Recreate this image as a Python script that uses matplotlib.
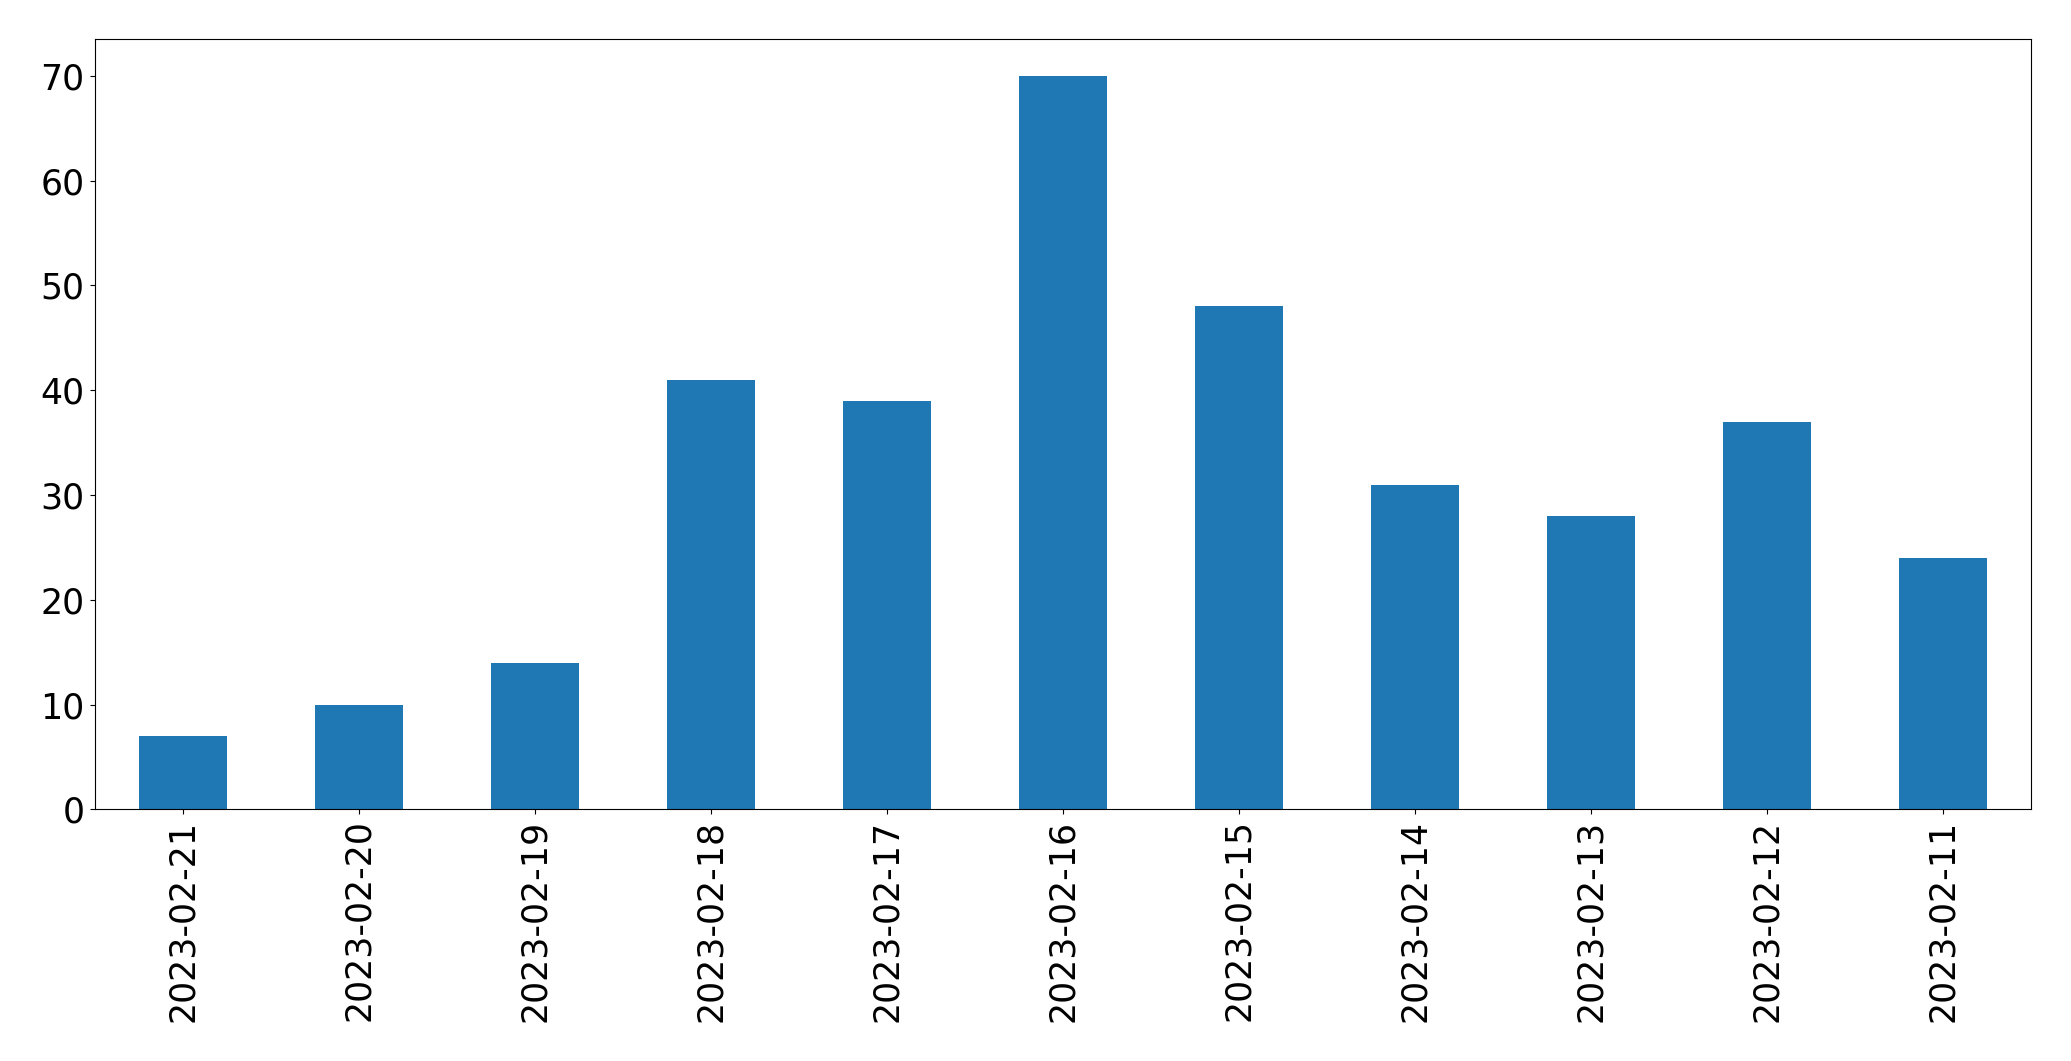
import matplotlib
matplotlib.use("Agg")
import matplotlib.pyplot as plt

dates = ["2023-02-21", "2023-02-20", "2023-02-19", "2023-02-18", "2023-02-17",
         "2023-02-16", "2023-02-15", "2023-02-14", "2023-02-13", "2023-02-12",
         "2023-02-11"]
counts = [7, 10, 14, 41, 39, 70, 48, 31, 28, 37, 24]

fig, ax = plt.subplots(figsize=(20.71, 10.61), dpi=100)
fig.subplots_adjust(left=0.0457, right=0.9807, top=0.963, bottom=0.2372)

x = range(len(dates))
ax.bar(x, counts, width=0.5, color="#1f77b4")
ax.set_xlim(-0.5, len(dates) - 0.5)
ax.set_ylim(0, max(counts) * 1.05)
ax.set_xticks(list(x))
ax.set_xticklabels(dates, rotation=90)
ax.tick_params(axis="both", labelsize=25, length=3.8)

fig.savefig("out.png", dpi=100)
